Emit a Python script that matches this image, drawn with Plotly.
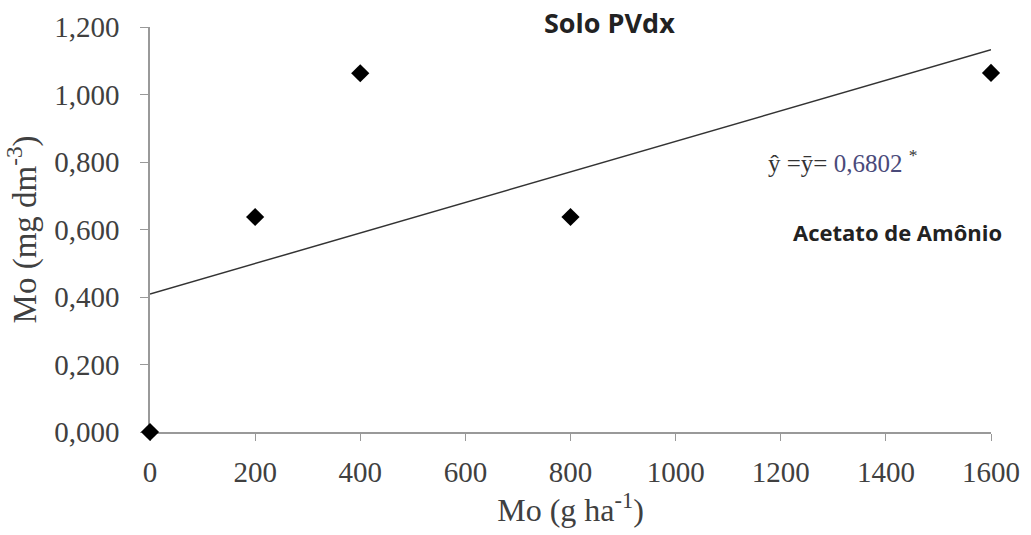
import numpy as np
import plotly.graph_objects as go

# Mo dose applied (g/ha) and Mo extracted with ammonium acetate (mg/dm3)
doses = [0, 200, 400, 800, 1600]
mo_soil = [0.0, 0.637, 1.063, 0.637, 1.064]

x_ticks = [0, 200, 400, 600, 800, 1000, 1200, 1400, 1600]
x_tick_labels = ["0", "200", "400", "600", "800", "1000", "1200", "1400", "1600"]
y_ticks = [0.0, 0.2, 0.4, 0.6, 0.8, 1.0, 1.2]
y_tick_labels = ["0,000", "0,200", "0,400", "0,600", "0,800", "1,000", "1,200"]

# linear trend fitted to the observations
slope, intercept = np.polyfit(doses, mo_soil, 1)
trend_x = [min(doses), max(doses)]
trend_y = [intercept + slope * v for v in trend_x]
mean_y = float(np.mean(mo_soil))

serif = "Liberation Serif, Times New Roman, serif"
sans = "Open Sans, Liberation Sans, sans-serif"

fig = go.Figure()
fig.add_trace(go.Scatter(
    x=trend_x, y=trend_y, mode="lines",
    line=dict(color="#333333", width=1.5),
    hoverinfo="skip", showlegend=False,
))
fig.add_trace(go.Scatter(
    x=doses, y=mo_soil, mode="markers",
    marker=dict(symbol="diamond", size=14, color="black"),
    cliponaxis=False, showlegend=False,
))

fig.update_layout(
    width=1031, height=535,
    margin=dict(l=150, r=40, t=27, b=103),
    paper_bgcolor="white", plot_bgcolor="white",
    font=dict(family=serif, color="#404040"),
    xaxis=dict(
        range=[0, 1600], tickvals=x_ticks, ticktext=x_tick_labels,
        showline=True, linecolor="#999999", linewidth=1.5,
        ticks="outside", ticklen=7, tickcolor="#999999",
        showgrid=False, zeroline=False, layer="below traces",
        ticklabelstandoff=6,
        tickfont=dict(family=serif, size=29, color="#404040"),
        title=dict(text="Mo (g ha<sup>-1</sup>)", standoff=8,
                   font=dict(family=serif, size=32, color="#404040")),
    ),
    yaxis=dict(
        range=[0, 1.2], tickvals=y_ticks, ticktext=y_tick_labels,
        showline=True, linecolor="#999999", linewidth=1.5,
        ticks="outside", ticklen=8, tickcolor="#999999",
        showgrid=False, zeroline=False, layer="below traces",
        ticklabelstandoff=15,
        tickfont=dict(family=serif, size=29, color="#404040"),
        title=dict(text="Mo (mg dm<sup>-3</sup>)", standoff=8,
                   font=dict(family=serif, size=33, color="#404040")),
    ),
    annotations=[
        dict(text="<b>Solo PVdx</b>", xref="paper", yref="paper",
             x=(609 - 150) / 841, y=(432 - 23) / 405, xanchor="center", yanchor="middle",
             showarrow=False, font=dict(family=sans, size=27, color="#222222")),
        dict(text="ŷ =ȳ= <span style='color:#4a4a7a'>%s</span> <sup>*</sup>"
                  % f"{mean_y:.4f}".replace(".", ","),
             xref="paper", yref="paper",
             x=(766 - 150) / 841, y=(432 - 161) / 405, xanchor="left", yanchor="middle",
             showarrow=False, font=dict(family=serif, size=25, color="#333333")),
        dict(text="<b>Acetato de Amônio</b>", xref="paper", yref="paper",
             x=(897 - 150) / 841, y=(432 - 232) / 405, xanchor="center", yanchor="middle",
             showarrow=False, font=dict(family=sans, size=22, color="#222222")),
    ],
)

fig.write_html("out.html")
